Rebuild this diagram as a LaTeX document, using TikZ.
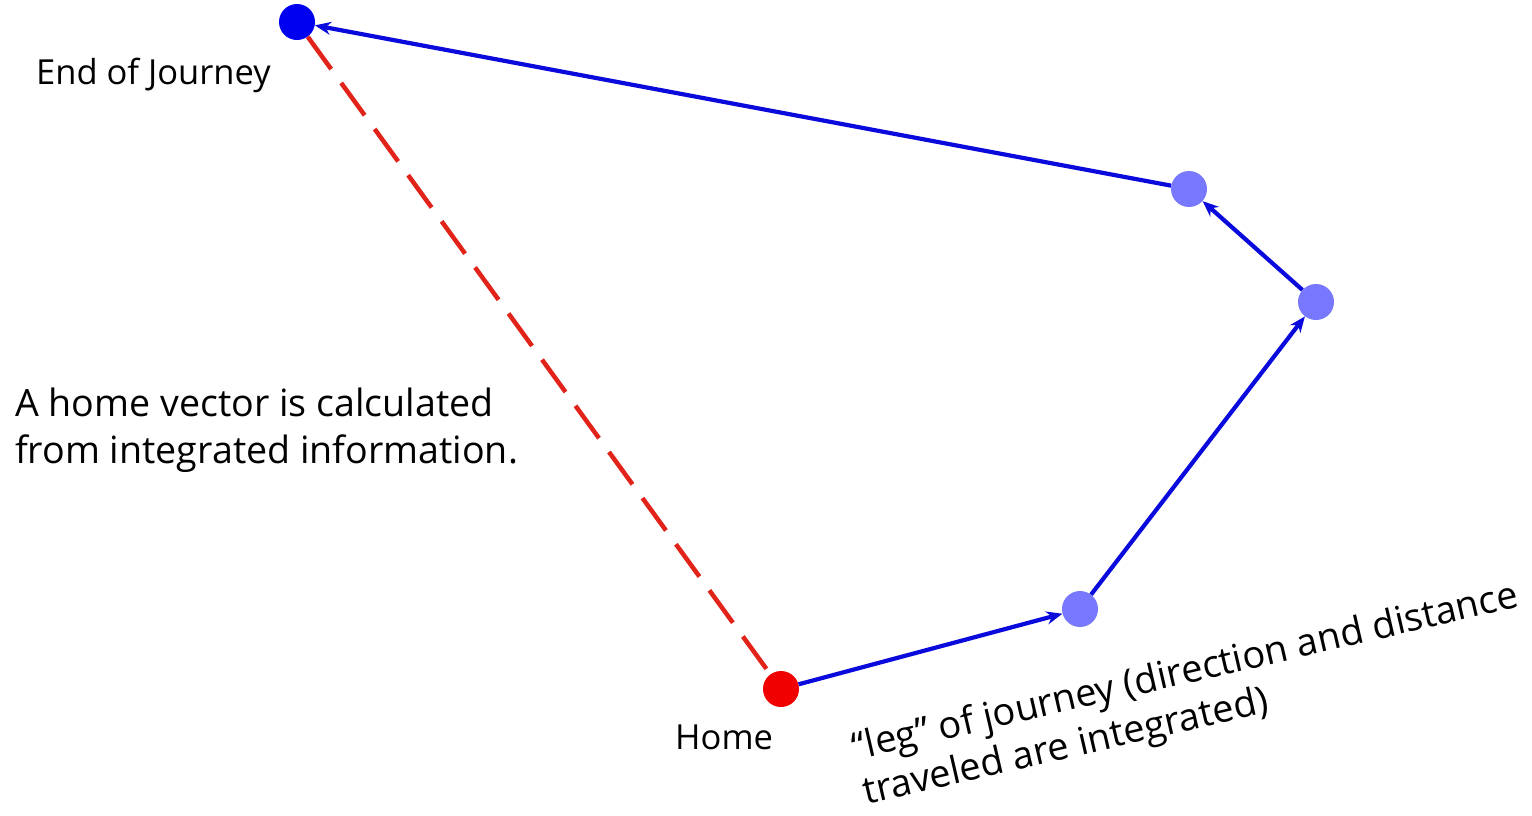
\documentclass[tikz,border=0pt]{standalone}
\usepackage{fontspec}
\setmainfont{Open Sans}
\usetikzlibrary{arrows.meta}
\definecolor{dotblue}{RGB}{0,0,240}
\definecolor{lightdot}{RGB}{120,120,255}
\definecolor{homered}{RGB}{240,0,0}
\definecolor{legblue}{RGB}{10,10,220}
\definecolor{dashred}{RGB}{225,35,25}
\begin{document}
\begin{tikzpicture}[x=1pt,y=-1pt,
  dot/.style={circle,minimum size=36pt,inner sep=0pt,fill=#1},
  leg/.style={draw=legblue,line width=4.2pt,-{Stealth[length=16pt,width=13pt]}},
  homevec/.style={draw=dashred,line width=4.5pt,dash pattern=on 40pt off 17pt},
  lbl/.style={font=\fontsize{34.5}{42}\selectfont,inner sep=0pt}]
\useasboundingbox (0,0) rectangle (1532,815);
\node[dot=dotblue] (end) at (297,22) {};
\node[dot=lightdot] (p3) at (1189,189) {};
\node[dot=lightdot] (p2) at (1316,302) {};
\node[dot=lightdot] (p1) at (1080,609) {};
\node[dot=homered] (home) at (781,689) {};
\draw[homevec] (end) -- (home);
\draw[leg] (home) -- (p1);
\draw[leg] (p1) -- (p2);
\draw[leg] (p2) -- (p3);
\draw[leg] (p3) -- (end);
\node[lbl,anchor=base west] (endlbl) at (36,84) {End of Journey};
\node[lbl,anchor=base west] (homelbl) at (675,749) {Home};
\node[lbl,anchor=base west,align=left,font=\fontsize{37.6}{47}\selectfont] (calc) at (15,463) {A home vector is calculated\\from integrated information.};
\node[lbl,anchor=base west,align=left,rotate=13,font=\fontsize{38}{46}\selectfont] (legnote) at (866,805) {``leg'' of journey (direction and distance\\traveled are integrated)};
\end{tikzpicture}
\end{document}
